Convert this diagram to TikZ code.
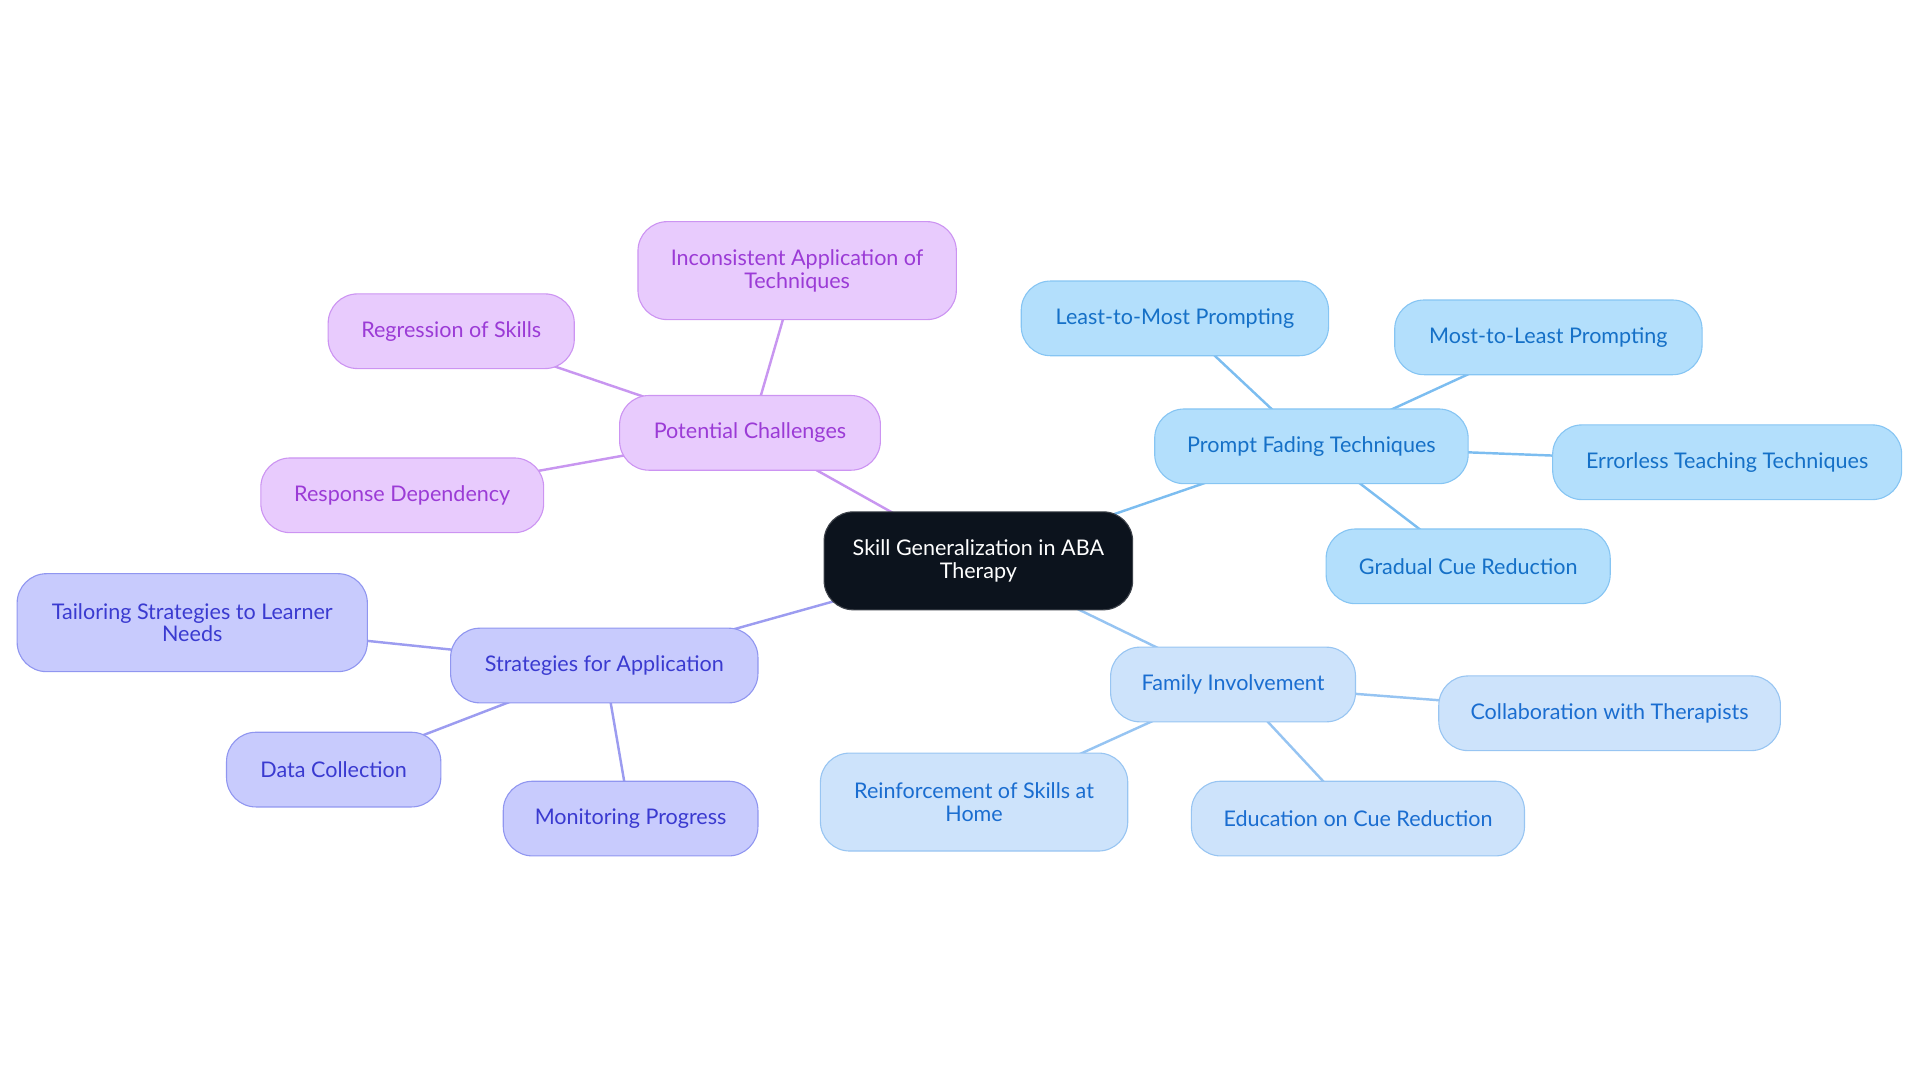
\documentclass[tikz,border=0pt]{standalone}
\usepackage{fontspec}
\setmainfont{Lato}
\usetikzlibrary{backgrounds}
\definecolor{cfill}{HTML}{0C131D}
\definecolor{bfill}{HTML}{B3DFFC}\definecolor{bdraw}{HTML}{86C5F3}\definecolor{btext}{HTML}{1570C7}\definecolor{bedge}{HTML}{7CBDF0}
\definecolor{ffill}{HTML}{CDE3FB}\definecolor{fdraw}{HTML}{98C5F2}\definecolor{ftext}{HTML}{1A6DD0}\definecolor{fedge}{HTML}{96C4F2}
\definecolor{sfill}{HTML}{C8CBFD}\definecolor{sdraw}{HTML}{9096F0}\definecolor{stext}{HTML}{3A3AD0}\definecolor{sedge}{HTML}{9C9CF0}
\definecolor{pfill}{HTML}{E8CBFD}\definecolor{pdraw}{HTML}{CC94F2}\definecolor{ptext}{HTML}{9B3BD6}\definecolor{pedge}{HTML}{C896F0}
\tikzset{
  box/.style={rectangle, rounded corners=24pt, align=center, inner sep=0pt, minimum height=61pt, line width=0.9pt, font=\fontsize{17.6}{18.5}\selectfont},
  bbox/.style={box, fill=bfill, draw=bdraw, text=btext},
  fbox/.style={box, fill=ffill, draw=fdraw, text=ftext},
  sbox/.style={box, fill=sfill, draw=sdraw, text=stext},
  pbox/.style={box, fill=pfill, draw=pdraw, text=ptext},
  cbox/.style={box, fill=cfill, draw=cfill!80!white, text=white, minimum height=80pt},
  tall/.style={minimum height=80pt},
  edge/.style={line width=2pt}
}
\begin{document}
\begin{tikzpicture}[x=1pt,y=-1pt]
\useasboundingbox (0,0) rectangle (1568,884);
\node[cbox, minimum width=252pt] (c) at (799,458) {Skill Generalization in ABA\\Therapy};
% blue
\node[bbox, minimum width=256pt] (pf) at (1071,364.5) {Prompt Fading Techniques};
\node[bbox, minimum width=251pt] (lm) at (959.5,260) {Least-to-Most Prompting};
\node[bbox, minimum width=251pt] (ml) at (1264.5,275.5) {Most-to-Least Prompting};
\node[bbox, minimum width=285pt] (et) at (1410.5,377.5) {Errorless Teaching Techniques};
\node[bbox, minimum width=232pt] (gc) at (1199,462.5) {Gradual Cue Reduction};
% family
\node[fbox, minimum width=200pt] (fi) at (1007,559) {Family Involvement};
\node[fbox, minimum width=279pt] (ct) at (1314.5,582.5) {Collaboration with Therapists};
\node[fbox, minimum width=272pt] (ec) at (1109,668.5) {Education on Cue Reduction};
\node[fbox, tall, minimum width=251pt] (rs) at (795.5,655) {Reinforcement of Skills at\\Home};
% strategies
\node[sbox, minimum width=251pt] (sa) at (493.5,543.5) {Strategies for Application};
\node[sbox, tall, minimum width=286pt] (ts) at (157,508.5) {Tailoring Strategies to Learner\\Needs};
\node[sbox, minimum width=175pt] (dc) at (272.5,628.5) {Data Collection};
\node[sbox, minimum width=208pt] (mp) at (515,668.5) {Monitoring Progress};
% potential
\node[pbox, minimum width=213pt] (pc) at (612.5,353.5) {Potential Challenges};
\node[pbox, tall, minimum width=260pt] (ia) at (651,221) {Inconsistent Application of\\Techniques};
\node[pbox, minimum width=201pt] (rg) at (368.5,270.5) {Regression of Skills};
\node[pbox, minimum width=231pt] (rd) at (328.5,404.5) {Response Dependency};
\begin{pgfonlayer}{background}
\draw[edge, bedge] (c.center) -- (pf.center);
\draw[edge, bedge] (pf.center) -- (lm.center);
\draw[edge, bedge] (pf.center) -- (ml.center);
\draw[edge, bedge] (pf.center) -- (et.center);
\draw[edge, bedge] (pf.center) -- (gc.center);
\draw[edge, fedge] (c.center) -- (fi.center);
\draw[edge, fedge] (fi.center) -- (ct.center);
\draw[edge, fedge] (fi.center) -- (ec.center);
\draw[edge, fedge] (fi.center) -- (rs.center);
\draw[edge, sedge] (c.center) -- (sa.center);
\draw[edge, sedge] (sa.center) -- (ts.center);
\draw[edge, sedge] (sa.center) -- (dc.center);
\draw[edge, sedge] (sa.center) -- (mp.center);
\draw[edge, pedge] (c.center) -- (pc.center);
\draw[edge, pedge] (pc.center) -- (ia.center);
\draw[edge, pedge] (pc.center) -- (rg.center);
\draw[edge, pedge] (pc.center) -- (rd.center);
\end{pgfonlayer}
\end{tikzpicture}
\end{document}
